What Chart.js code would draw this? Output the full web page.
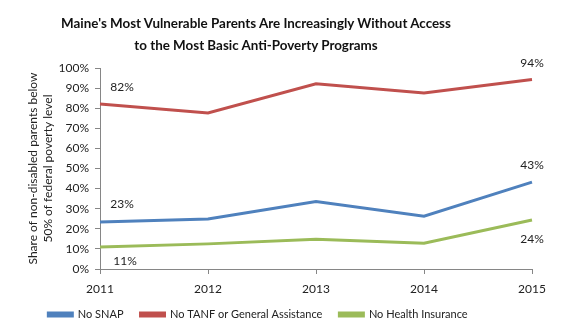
<!DOCTYPE html>
<html>
<head>
<meta charset="utf-8">
<script src="https://cdn.jsdelivr.net/npm/chart.js@4/dist/chart.umd.min.js"></script>
<style>
  body { margin: 0; background: #fff; }
  #wrap { position: relative; width: 582px; height: 333px; }
  #titulo {
    position: absolute; left: 0; top: 12px; width: 512px; text-align: center;
    font: bold 13.4px Lato, "Open Sans", sans-serif; line-height: 22px; color: #111;
  }
</style>
</head>
<body>
<div id="wrap">
  <canvas id="grafica" width="582" height="333"></canvas>
  <div id="titulo">Maine's Most Vulnerable Parents Are Increasingly Without Access<br>to the Most Basic Anti-Poverty Programs</div>
</div>
<script>
// datos
const anios = ['2011', '2012', '2013', '2014', '2015'];
const noSnap = [23.4, 24.9, 33.6, 26.3, 43.2];
const noTanf = [82.1, 77.6, 92.1, 87.6, 94.3];
const noSalud = [11.0, 12.5, 14.8, 12.8, 24.4];
const etiquetas = [
  // [serie, índice, texto, dx, dy]
  [1, 0, '82%', 22, -17],
  [0, 0, '23%', 22, -18],
  [2, 0, '11%', 25, 14],
  [1, 4, '94%', 0, -16],
  [0, 4, '43%', 0, -17],
  [2, 4, '24%', 0, 19],
];

const fuente = 'Lato, "Open Sans", sans-serif';

// etiquetas de datos en los extremos
const pluginEtiquetas = {
  id: 'etiquetas',
  afterDatasetsDraw(chart) {
    const ctx = chart.ctx;
    ctx.save();
    ctx.font = '12px ' + fuente;
    ctx.fillStyle = '#222';
    ctx.textAlign = 'center';
    ctx.textBaseline = 'middle';
    etiquetas.forEach(([s, i, txt, dx, dy]) => {
      const p = chart.getDatasetMeta(s).data[i];
      ctx.fillText(txt, p.x + dx, p.y + dy);
    });
    ctx.restore();
  }
};

// mover la leyenda un poco a la izquierda, como en el original
const pluginLeyenda = {
  id: 'moverLeyenda',
  afterLayout(chart) {
    const lg = chart.legend;
    lg.left -= 20; lg.right -= 20;
    lg.top = 292; lg.bottom = 330;
  }
};

new Chart(document.getElementById('grafica'), {
  type: 'line',
  data: {
    labels: anios,
    datasets: [
      { label: 'No SNAP', data: noSnap, borderColor: '#4F81BD', backgroundColor: '#4F81BD' },
      { label: 'No TANF or General Assistance', data: noTanf, borderColor: '#C0504D', backgroundColor: '#C0504D' },
      { label: 'No Health Insurance', data: noSalud, borderColor: '#9BBB59', backgroundColor: '#9BBB59' },
    ]
  },
  options: {
    responsive: false,
    animation: false,
    elements: { line: { borderWidth: 3, tension: 0 }, point: { radius: 0 } },
    layout: { padding: { top: 68, right: 50, left: 24, bottom: 0 } },
    plugins: {
      tooltip: { enabled: false },
      legend: {
        position: 'bottom',
        maxHeight: 36,
        labels: { boxWidth: 24, boxHeight: 3, padding: 17, color: '#222', font: { family: fuente, size: 11 } }
      }
    },
    scales: {
      x: {
        offset: false,
        grid: { drawOnChartArea: false, color: '#868686', tickLength: 5 },
        border: { color: '#868686' },
        ticks: { color: '#222', font: { family: fuente, size: 12 }, padding: 8 },
        afterFit: s => { s.height = 28; }
      },
      y: {
        min: 0, max: 100,
        grid: { drawOnChartArea: false, color: '#868686', tickLength: 5 },
        border: { color: '#868686' },
        ticks: { stepSize: 10, color: '#222', font: { family: fuente, size: 12 }, padding: 6, callback: v => v + '%' },
        title: {
          display: true,
          text: ['Share of non-disabled parents below', '50% of federal poverty level'],
          color: '#222', font: { family: fuente, size: 12, lineHeight: 1.25 }, padding: 2
        },
        afterFit: s => { s.width = 76; }
      }
    }
  },
  plugins: [pluginEtiquetas, pluginLeyenda]
});
</script>
</body>
</html>
